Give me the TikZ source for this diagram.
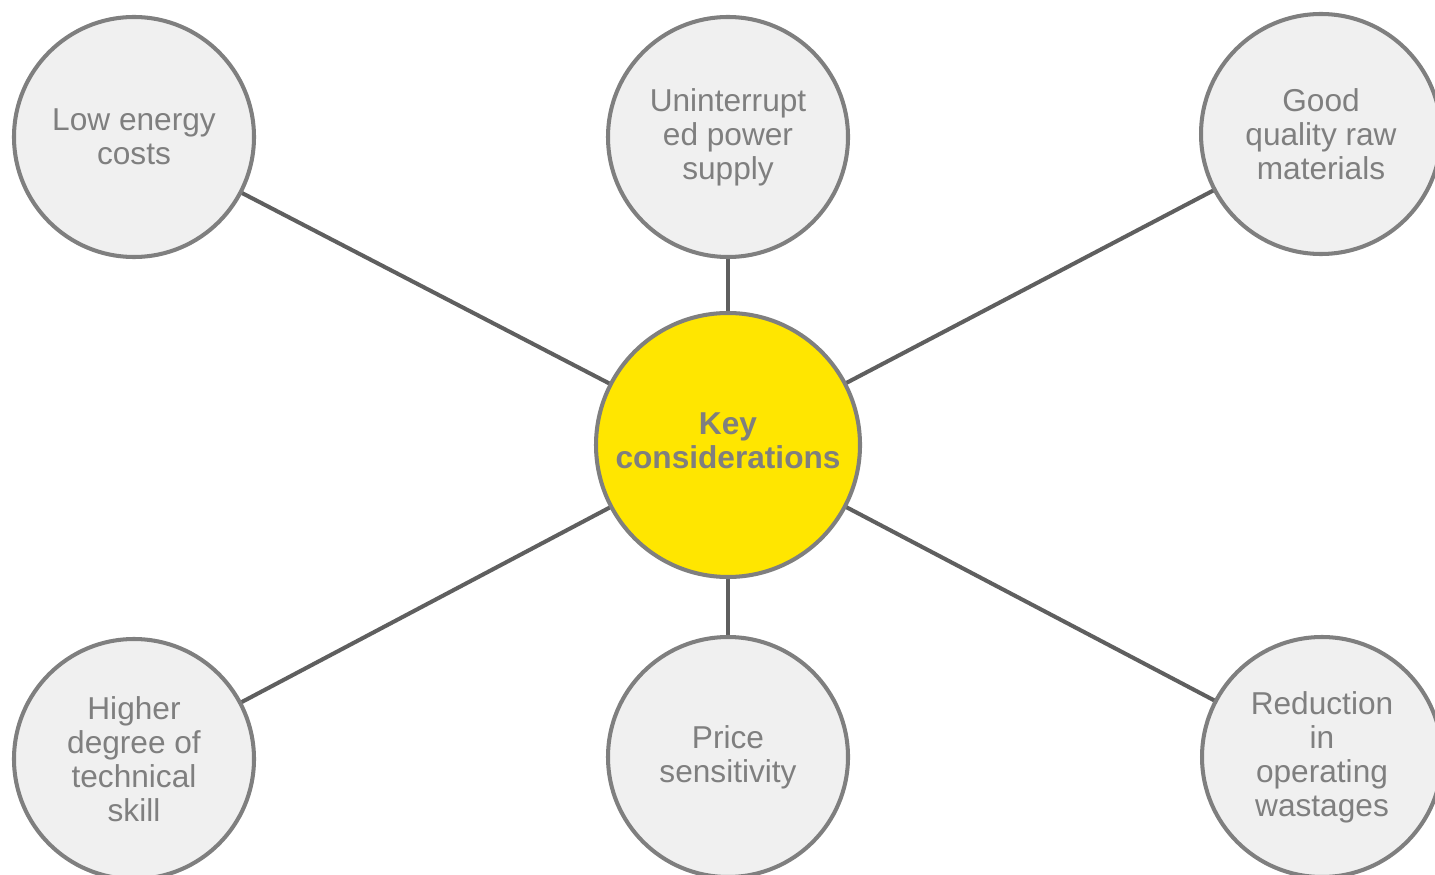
\documentclass[tikz,border=0pt]{standalone}
\usepackage{fontspec}
\setmainfont{Liberation Sans}
\usepackage{xcolor}
\usepackage{tikz}
\usetikzlibrary{backgrounds}

\definecolor{eyyellow}{HTML}{FFE600}
\definecolor{ringgray}{HTML}{7F7F7F}
\definecolor{linkgray}{HTML}{5F5F5F}
\definecolor{fillgray}{HTML}{F0F0F0}

\begin{document}
\begin{tikzpicture}[
        hub/.style={circle, draw=ringgray, line width=2.3pt, fill=eyyellow, minimum size=5.28cm,
            text=ringgray, font=\fontsize{18}{19.3}\selectfont\bfseries, inner sep=0pt},
        spoke/.style={circle, draw=ringgray, line width=2.3pt, fill=fillgray, minimum size=4.8cm,
            align=center, text=ringgray, font=\fontsize{18}{19.3}\selectfont, inner sep=0pt},
        link/.style={draw=linkgray, line width=2.3pt}
    ]
    
    % ---------- 画布 ----------
    \useasboundingbox (0,0) rectangle (28.7,-17.5);
    
    % ---------- 中心 ----------
    \node[hub] (key) at (14.56,-8.9)
        {\raisebox{4pt}{\begin{tabular}{@{}c@{}}Key\\considerations\end{tabular}}};
    
    % ---------- 外圈 ----------
    \foreach \name/\x/\y/\txt in {
        energy/2.68/-2.74/{Low energy\\costs},
        power/14.56/-2.74/{Uninterrupt\\ed power\\supply},
        raw/26.42/-2.68/{Good\\quality raw\\materials},
        skill/2.68/-15.18/{Higher\\degree of\\technical\\skill},
        price/14.56/-15.14/{Price\\sensitivity},
        waste/26.44/-15.14/{Reduction\\in\\operating\\wastages}} {
        \node[spoke] (\name) at (\x,\y) {\txt};
    }
    
    % ---------- 连线 ----------
    \begin{scope}[on background layer]
        \foreach \name in {energy,power,raw,skill,price,waste} {
            \draw[link] (key.center) -- (\name.center);
        }
    \end{scope}
    
\end{tikzpicture}
\end{document}
